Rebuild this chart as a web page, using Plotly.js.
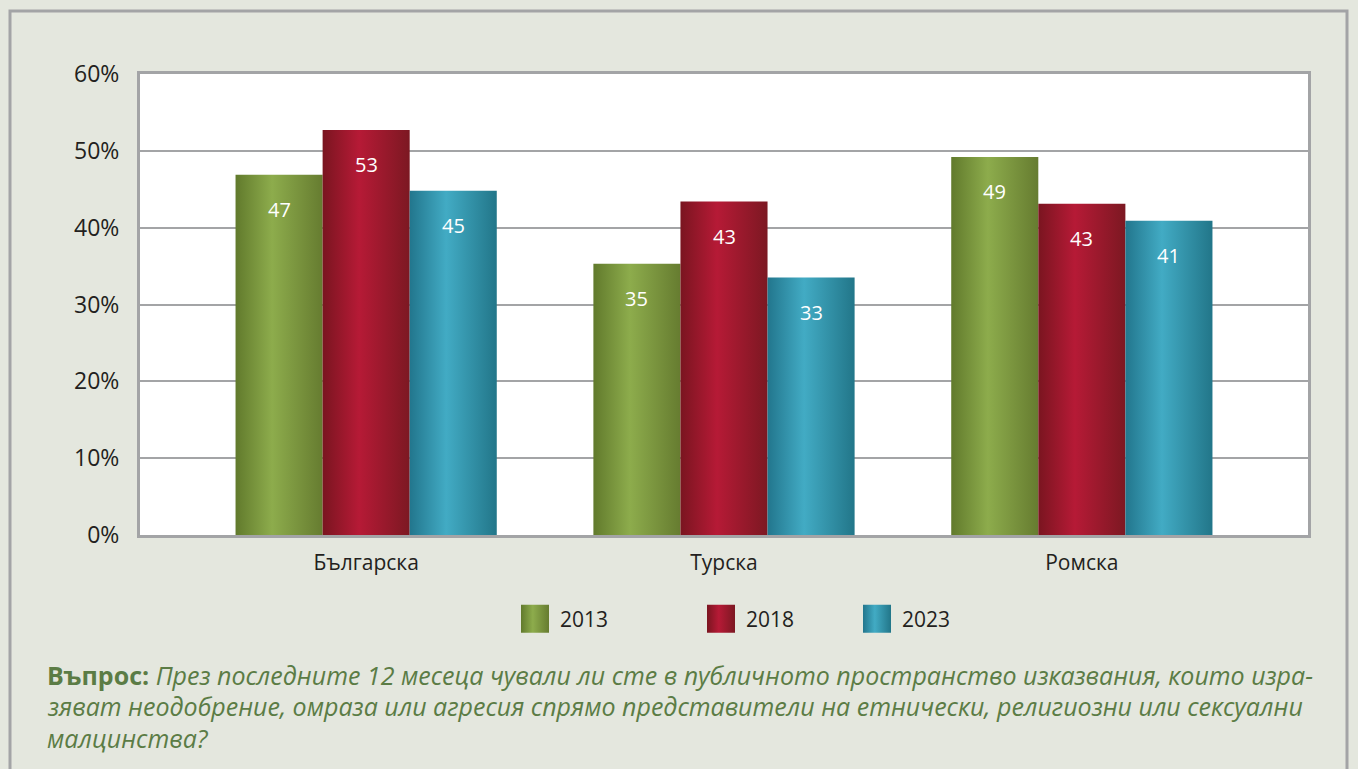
<!DOCTYPE html>
<html>
<head>
<meta charset="utf-8">
<script src="https://cdn.plot.ly/plotly-3.0.1.min.js"></script>
<style>
  html, body { margin: 0; padding: 0; background: #e4e7de; }
  #chart { width: 1358px; height: 769px; }
</style>
</head>
<body>
<div id="chart"></div>
<script>
const categories = ["Българска", "Турска", "Ромска"];
const years = ["2013", "2018", "2023"];
const values2013 = [46.9, 35.3, 49.2];
const values2018 = [52.7, 43.4, 43.1];
const values2023 = [44.8, 33.5, 40.9];
const labels2013 = ["47", "35", "49"];
const labels2018 = ["53", "43", "43"];
const labels2023 = ["45", "33", "41"];

const baseColors = ["#7a9a3a", "#9e1b2e", "#2c8ea6"];
// left edge, highlight, right edge for each series
const gradStops = [
  ["#617a2c", "#8dac4c", "#667c30"],
  ["#7a1520", "#b61a36", "#7c1822"],
  ["#22768d", "#42abc4", "#227689"]
];

const question = [
  "<b>Въпрос:</b> <i>През последните 12 месеца чували ли сте в публичното пространство изказвания, които изра-</i>",
  "<i>зяват неодобрение, омраза или агресия спрямо представители на етнически, религиозни или сексуални</i>",
  "<i>малцинства?</i>"
];

const font = "'Open Sans', 'Noto Sans', sans-serif";
const plotLeft = 140, plotRight = 1308, plotTop = 74, plotBottom = 535;
const plotW = plotRight - plotLeft, plotH = plotBottom - plotTop;
const xRange = [-0.632, 2.632];
const bargap = 0.27;

const series = [values2013, values2018, values2023];
const labels = [labels2013, labels2018, labels2023];
const legendIds = ["legend", "legend2", "legend3"];

const traces = series.map((vals, i) => ({
  type: "bar",
  x: categories,
  y: vals,
  name: years[i],
  legend: legendIds[i],
  marker: { color: baseColors[i], line: { width: 0 } },
  hoverinfo: "none"
}));

// px helpers for decorations outside the plot area
const px = v => (v - plotLeft) / plotW;
const py = v => (plotBottom - v) / plotH;

const pxPerCat = plotW / (xRange[1] - xRange[0]);
const barW = pxPerCat * (1 - bargap) / 3;

const annotations = [];
series.forEach((vals, i) => {
  vals.forEach((v, j) => {
    annotations.push({
      x: categories[j], y: v, xref: "x", yref: "y",
      xshift: (i - 1) * barW, yshift: -19,
      yanchor: "top", xanchor: "center",
      text: labels[i][j], showarrow: false,
      font: { family: font, size: 20, color: "#ffffff" }
    });
  });
});

const lineCenters = [675, 706, 738];
question.forEach((t, k) => {
  annotations.push({
    xref: "paper", yref: "paper", x: px(45), y: py(lineCenters[k]),
    xanchor: "left", yanchor: "middle", align: "left",
    text: t, showarrow: false,
    font: { family: font, size: 25, color: "#5b7c45" }
  });
});

const legendX = [520, 706, 862];
const legendBase = (k) => ({
  orientation: "h", x: px(legendX[k]), y: py(619), xanchor: "left", yanchor: "middle",
  bgcolor: "rgba(0,0,0,0)", font: { family: font, size: 21, color: "#231f20" },
  itemclick: false, itemdoubleclick: false
});

const layout = {
  width: 1358, height: 769,
  margin: { l: plotLeft, r: 1358 - plotRight, t: plotTop, b: 769 - plotBottom },
  paper_bgcolor: "#e4e7de",
  plot_bgcolor: "#ffffff",
  barmode: "group",
  bargap: bargap,
  bargroupgap: 0,
  showlegend: true,
  legend: legendBase(0),
  legend2: legendBase(1),
  legend3: legendBase(2),
  font: { family: font, color: "#231f20" },
  xaxis: {
    range: xRange, showgrid: false, zeroline: false,
    showline: true, mirror: true, linecolor: "#a3a4a6", linewidth: 3,
    ticks: "", tickfont: { family: font, size: 21, color: "#231f20" },
    ticklabelstandoff: 7, fixedrange: true
  },
  yaxis: {
    range: [0, 60], dtick: 10, ticksuffix: "%",
    showgrid: true, gridcolor: "#a3a4a6", gridwidth: 2, zeroline: false,
    showline: true, mirror: true, linecolor: "#a3a4a6", linewidth: 3,
    ticks: "", tickfont: { family: font, size: 23, color: "#231f20" },
    ticklabelstandoff: 13, fixedrange: true
  },
  shapes: [{
    type: "rect", xref: "paper", yref: "paper",
    x0: px(10), x1: px(1347), y0: py(820), y1: py(11),
    line: { color: "#a3a4a6", width: 3 }, fillcolor: "rgba(0,0,0,0)", layer: "below"
  }],
  annotations: annotations
};

function applyGradients(gd) {
  const svg = gd.querySelector("svg.main-svg");
  const ns = "http://www.w3.org/2000/svg";
  let defs = svg.querySelector("defs");
  if (!defs) { defs = document.createElementNS(ns, "defs"); svg.insertBefore(defs, svg.firstChild); }
  gradStops.forEach((stops, i) => {
    const g = document.createElementNS(ns, "linearGradient");
    g.setAttribute("id", "barGrad" + i);
    g.setAttribute("x1", "0"); g.setAttribute("x2", "1");
    g.setAttribute("y1", "0"); g.setAttribute("y2", "0");
    [[0, stops[0]], [0.42, stops[1]], [1, stops[2]]].forEach(([o, c]) => {
      const s = document.createElementNS(ns, "stop");
      s.setAttribute("offset", o);
      s.setAttribute("stop-color", c);
      g.appendChild(s);
    });
    defs.appendChild(g);
  });
  gd.querySelectorAll(".barlayer .trace").forEach((tr, i) => {
    tr.querySelectorAll("path").forEach(p => p.style.setProperty("fill", "url(#barGrad" + i + ")"));
  });
  const toRgb = hex => {
    const n = parseInt(hex.slice(1), 16);
    return "rgb(" + (n >> 16) + ", " + ((n >> 8) & 255) + ", " + (n & 255) + ")";
  };
  gd.querySelectorAll(".legendpoints path").forEach(p => {
    const idx = baseColors.map(toRgb).indexOf(p.style.fill);
    if (idx < 0) return;
    p.setAttribute("d", "M9,14H-19V-14H9Z");
    p.style.setProperty("fill", "url(#barGrad" + idx + ")");
    p.style.setProperty("stroke-width", "0");
  });
}

Plotly.newPlot("chart", traces, layout, { displayModeBar: false, staticPlot: true })
  .then(applyGradients);
</script>
</body>
</html>
